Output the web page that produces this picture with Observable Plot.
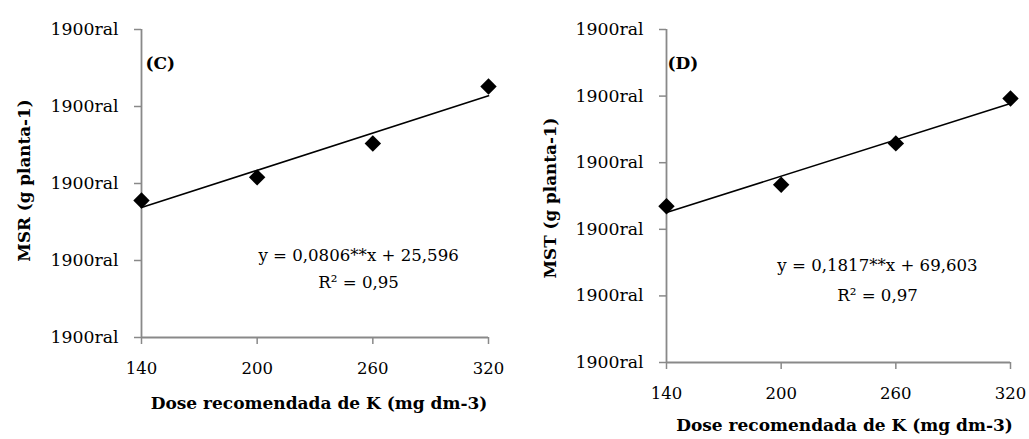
<!DOCTYPE html>
<html>
<head>
<meta charset="utf-8">
<script src="https://cdn.jsdelivr.net/npm/d3@7"></script>
<script src="https://cdn.jsdelivr.net/npm/@observablehq/plot@0.6"></script>
<style>
  html, body { margin: 0; padding: 0; background: #fff; }
  #wrap { position: relative; width: 1029px; height: 439px; background: #fff; overflow: hidden; }
  #panelC { position: absolute; left: 0; top: 0; }
  #panelD { position: absolute; left: 510px; top: 0; }
  svg { font-family: "DejaVu Serif", serif; }
</style>
</head>
<body>
<div id="wrap"><div id="panelC"></div><div id="panelD"></div></div>
<script>
// ---- data ----
const doses = [140, 200, 260, 320];
const msr = [37.8, 40.8, 45.2, 52.6];
const mst = [96.9, 103.4, 115.8, 129.3];
const xTicks = [140, 200, 260, 320];
const yTicksC = [20, 30, 40, 50, 60];
const yTicksD = [50, 70, 90, 110, 130, 150];
const yTickLabel = "1900ral";
const slopes = [0.0806, 0.1817];
const intercepts = [25.596, 69.603];
const eqTexts = ["y = 0,0806**x + 25,596", "y = 0,1817**x + 69,603"];
const r2Texts = ["R² = 0,95", "R² = 0,97"];
const panelLabels = ["(C)", "(D)"];
const yTitles = ["MSR (g planta-1)", "MST (g planta-1)"];
const xTitle = "Dose recomendada de K (mg dm-3)";
// annotation anchor positions (data units)
const eqX = [252.6, 250.4];
const eqY = [30.65, 79.0];
const r2Y = [27.14, 70.0];

const FONT = "DejaVu Serif, serif";
const AXIS_GRAY = "#898989";

function panel(i, values, yTicks, opts) {
  const data = doses.map((d, k) => ({dose: d, value: values[k]}));
  const fit = [doses[0], doses[doses.length - 1]].map(d => ({dose: d, value: slopes[i] * d + intercepts[i]}));
  const yMin = yTicks[0], yMax = yTicks[yTicks.length - 1];
  return Plot.plot({
    width: opts.width,
    height: 439,
    marginLeft: opts.ml,
    marginRight: opts.mr,
    marginTop: 29,
    marginBottom: opts.mb,
    style: {fontFamily: FONT, background: "#fff"},
    x: {domain: [140, 320]},
    y: {domain: [yMin, yMax]},
    marks: [
      Plot.axisY({ticks: yTicks, tickFormat: () => yTickLabel, tickSize: 7, tickPadding: 16,
        stroke: AXIS_GRAY, fill: "#000", fontSize: 17.3, fontFamily: FONT, label: null, strokeWidth: 1.5}),
      Plot.axisX({ticks: xTicks, tickFormat: d => String(d), tickSize: 7, tickPadding: 18,
        stroke: AXIS_GRAY, fill: "#000", fontSize: 16.5, fontFamily: FONT, label: null, strokeWidth: 1.5}),
      Plot.ruleX([140], {stroke: AXIS_GRAY, strokeWidth: 1.8}),
      Plot.ruleY([yMin], {stroke: AXIS_GRAY, strokeWidth: 1.8}),
      Plot.line(fit, {x: "dose", y: "value", stroke: "#000", strokeWidth: 1.6}),
      Plot.dot(data, {x: "dose", y: "value", symbol: "diamond2", r: 7.4, fill: "#000", stroke: "none"}),
      Plot.text([eqTexts[i]], {x: () => eqX[i], y: () => eqY[i], text: d => d, fontSize: 16.6, fontFamily: FONT, fill: "#000"}),
      Plot.text([r2Texts[i]], {x: () => eqX[i], y: () => r2Y[i], text: d => d, fontSize: 16.6, fontFamily: FONT, fill: "#000"}),
      Plot.text([panelLabels[i]], {frameAnchor: "top-left", textAnchor: "start", lineAnchor: "middle",
        dx: opts.labDx, dy: 34, text: d => d, fontSize: 17, fontWeight: "bold", fontFamily: FONT, fill: "#000"}),
      Plot.text([xTitle], {frameAnchor: "bottom", textAnchor: "middle", lineAnchor: "middle", dx: opts.xtDx, dy: opts.xtDy,
        text: d => d, fontSize: 17, fontWeight: "bold", fontFamily: FONT, fill: "#000"}),
      Plot.text([yTitles[i]], {frameAnchor: "left", textAnchor: "middle", lineAnchor: "middle", rotate: -90, dx: opts.ytDx, dy: opts.ytDy,
        text: d => d, fontSize: 16.8, fontWeight: "bold", fontFamily: FONT, fill: "#000"})
    ]
  });
}

document.getElementById("panelC").appendChild(
  panel(0, msr, yTicksC, {width: 510, ml: 141, mr: 22, mb: 102, labDx: 4, xtDx: 4, xtDy: 66, ytDx: -117, ytDy: -3})
);
document.getElementById("panelD").appendChild(
  panel(1, mst, yTicksD, {width: 519, ml: 156, mr: 19, mb: 77, labDx: 1, xtDx: 6, xtDy: 63, ytDx: -116, ytDy: 2})
);
</script>
</body>
</html>
